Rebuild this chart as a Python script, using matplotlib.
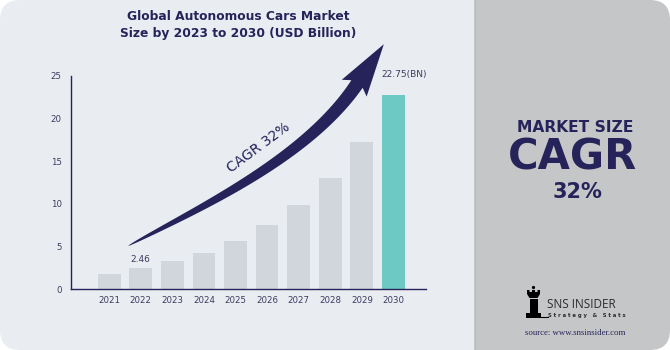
import numpy as np
import matplotlib.pyplot as plt
from matplotlib.patches import FancyBboxPatch, Rectangle, Polygon, Circle

years = [2021, 2022, 2023, 2024, 2025, 2026, 2027, 2028, 2029, 2030]
values = [1.75, 2.46, 3.3, 4.3, 5.7, 7.5, 9.9, 13.0, 17.2, 22.75]
yticks = [0, 5, 10, 15, 20, 25]
title = 'Global Autonomous Cars Market\nSize by 2023 to 2030 (USD Billion)'
cagr_text = 'CAGR 32%'

navy = '#26235a'
tick_col = '#3d3b60'
bar_gray = '#d0d6dc'
teal = '#6dc9c3'
left_bg = '#e9ecf1'
right_bg = '#c5c6c8'

fig = plt.figure(figsize=(6.7, 3.5), dpi=100, facecolor='white')

# background panels (pixel coordinates, y down)
bg = fig.add_axes([0, 0, 1, 1], zorder=0)
bg.set_xlim(0, 670)
bg.set_ylim(350, 0)
bg.axis('off')
bg.add_patch(FancyBboxPatch((0, 0), 520, 350, boxstyle='round,pad=0,rounding_size=20',
                            fc=left_bg, ec='none'))
bg.add_patch(FancyBboxPatch((454, 0), 216, 350, boxstyle='round,pad=0,rounding_size=20',
                            fc=right_bg, ec='none'))
bg.add_patch(Rectangle((454, 0), 20, 350, fc=left_bg, ec='none'))
bg.plot([474.5, 474.5], [0, 350], color='#bcbdc1', lw=1)

# bar chart
ax = fig.add_axes([0.1064, 0.1734, 0.5294, 0.6103], zorder=1)
ax.patch.set_alpha(0)
colors = [bar_gray] * (len(years) - 1) + [teal]
ax.bar(years, values, width=0.72, color=colors)
ax.set_xlim(2019.8, 2031.03)
ax.set_ylim(0, 25)
ax.set_xticks(years)
ax.set_yticks(yticks)
ax.tick_params(length=0, labelsize=6.2, labelcolor=tick_col)
ax.tick_params(axis='y', pad=7)
ax.tick_params(axis='x', pad=5)
for s in ['top', 'right']:
    ax.spines[s].set_visible(False)
for s in ['left', 'bottom']:
    ax.spines[s].set_color(navy)
    ax.spines[s].set_linewidth(1)
ax.annotate('2.46', (years[1], values[1]), xytext=(0, 3), textcoords='offset points',
            ha='center', va='bottom', fontsize=6.5, color=tick_col)
ax.annotate('22.75(BN)', (years[-1], values[-1]), xytext=(7.5, 14.5), textcoords='offset points',
            ha='center', va='center', fontsize=6.5, color=tick_col)

# overlay: title, arrow, right panel
top = fig.add_axes([0, 0, 1, 1], zorder=3)
top.patch.set_alpha(0)
top.set_xlim(0, 670)
top.set_ylim(350, 0)
top.axis('off')

top.text(238, 25, title, ha='center', va='center', fontsize=8.8, fontweight='bold',
         color=navy, linespacing=1.45)

# curved growth arrow (cubic bezier body that widens towards the head)
p0 = np.array([128.0, 246.0])
p3 = np.array([357.0, 84.0])
a0, a1 = np.radians(28), np.radians(56)
p1 = p0 + 80 * np.array([np.cos(a0), -np.sin(a0)])
p2 = p3 - 90 * np.array([np.cos(a1), -np.sin(a1)])
t = np.linspace(0, 1, 100)[:, None]
curve = ((1 - t) ** 3 * p0 + 3 * (1 - t) ** 2 * t * p1
         + 3 * (1 - t) * t ** 2 * p2 + t ** 3 * p3)
deriv = (3 * (1 - t) ** 2 * (p1 - p0) + 6 * (1 - t) * t * (p2 - p1)
         + 3 * t ** 2 * (p3 - p2))
tang = deriv / np.linalg.norm(deriv, axis=1, keepdims=True)
norm = np.column_stack([tang[:, 1], -tang[:, 0]])
w = 6.8 * t[:, 0] ** 0.6
upper = curve + norm * w[:, None]
lower = curve - norm * w[:, None]
d = tang[-1]
n = norm[-1]
head = [p3 + 15 * n - 5 * d, p3 + 48 * d, p3 - 15 * n - 5 * d]
pts = np.vstack([upper, head, lower[::-1]])
top.add_patch(Polygon(pts, closed=True, fc=navy, ec='none'))

top.text(259, 148, cagr_text, ha='center', va='center', rotation=36.5, fontsize=10,
         color=navy, fontweight='medium')

# right panel text
top.text(575, 128, 'MARKET SIZE', ha='center', va='center', fontsize=11.2,
         fontweight='bold', color=navy)
top.text(572, 157, 'CAGR', ha='center', va='center', fontsize=30,
         fontweight='bold', color=navy)
top.text(577, 192, '32%', ha='center', va='center', fontsize=15,
         fontweight='bold', color=navy)

# logo
top.add_patch(Circle((533.5, 287.5), 1.6, fc='black', ec='none'))
top.add_patch(Polygon([(527, 290), (529.5, 290), (529.5, 292), (532, 292), (532, 290),
                       (535, 290), (535, 292), (537.5, 292), (537.5, 290), (540, 290),
                       (540, 294), (537.5, 298), (529.5, 298), (527, 294)],
                      closed=True, fc='black', ec='none'))
top.add_patch(Rectangle((529.5, 299), 8, 14, fc='black', ec='none'))
top.add_patch(Rectangle((526, 313), 15, 4.5, fc='black', ec='none'))
top.plot([541, 548], [317, 317], color='black', lw=0.8)
top.text(547, 305, 'SNS INSIDER', ha='left', va='center', fontsize=8.5,
         family='Open Sans', color='#2b2b2b')
top.text(548, 316, 'S t r a t e g y   &   S t a t s', ha='left', va='center',
         fontsize=3.8, fontweight='bold', color='#2b2b2b')
top.text(575, 333, 'source: www.snsinsider.com', ha='center', va='center',
         fontsize=6.3, family='Liberation Serif', color=navy)

fig.savefig('out.png', dpi=100, facecolor='white')
